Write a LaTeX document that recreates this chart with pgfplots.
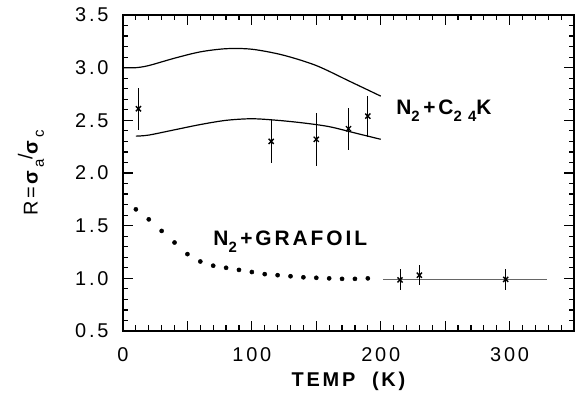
\documentclass[border=0pt]{standalone}
\usepackage{fontspec}
\setmainfont{Liberation Sans}[LetterSpace=14]
\usepackage{pgfplots}
\pgfplotsset{compat=1.18}
\newcommand{\sub}[1]{\raisebox{-0.6ex}{\fontsize{15}{15}\selectfont #1}}
\begin{document}
\begin{tikzpicture}
\useasboundingbox (-123bp,-62bp) rectangle (454bp,331bp);
\begin{axis}[
 scale only axis, width=451bp, height=316bp, at={(0,0)}, anchor=south west,
 xmin=0, xmax=350, ymin=0.5, ymax=3.5,
 xtick={0,50,...,350}, xticklabels={0,,100,,200,,300,},
 ytick={0.5,1,1.5,2,2.5,3,3.5},
 /pgf/number format/assume math mode=true,
 minor x tick num=4, minor y tick num=4,
 tick align=inside, major tick length=10bp, minor tick length=5.5bp,
 axis line style={line width=1.5bp},
 every tick/.style={line width=1.2bp, black},
 ticklabel style={font=\fontsize{20}{20}\selectfont},
 yticklabel style={/pgf/number format/fixed, /pgf/number format/fixed zerofill, /pgf/number format/precision=1, xshift=-11bp},
 xticklabel style={yshift=-13bp},
 xlabel={\bfseries TEMP\ \ (K)},
 xlabel style={at={([yshift=-50bp]axis description cs:0.5,0)}, anchor=center, font=\fontsize{20}{20}\selectfont},
 ylabel={R=\textbf{σ}\sub{a}\raisebox{0.5ex}{/}\textbf{σ}\sub{c}},
 ylabel style={at={([xshift=-92bp]axis description cs:0,0.5)}, anchor=center, font=\fontsize{20}{20}\selectfont},
 clip=false,
]
% upper model curve
\addplot[black, line width=1.2bp, smooth] coordinates {
(0,3.0)(10,3.0)(20,3.02)(40,3.09)(60,3.15)(80,3.18)(100,3.175)(124,3.12)(150,3.02)(176,2.87)(200,2.73)};
% lower model curve
\addplot[black, line width=1.2bp, smooth] coordinates {
(10,2.35)(20,2.36)(40,2.41)(60,2.46)(80,2.50)(100,2.515)(120,2.50)(140,2.475)(160,2.44)(180,2.38)(200,2.32)};
% C24K data with error bars
\addplot[black, only marks, mark=x, mark size=3.6bp, line width=1.4bp,
 error bars/.cd, y dir=both, y explicit, error mark=none,
 error bar style={line width=0.9bp}] coordinates {
(12,2.61) +- (0,0.2)
(115,2.30) +- (0,0.205)
(150,2.32) +- (0,0.25)
(175,2.42) +- (0,0.2)
(190,2.54) +- (0,0.195)};
% grafoil dots
\addplot[black, only marks, mark=*, mark size=2.1bp] coordinates {
(10,1.655)(20,1.56)(30,1.45)(40,1.34)(50,1.23)(60,1.16)(70,1.12)(80,1.10)(90,1.08)(100,1.06)(110,1.04)(120,1.03)(130,1.02)(140,1.01)(150,1.005)(160,1.0)(170,0.995)(180,0.995)(190,1.0)};
% horizontal line
\addplot[black!60, line width=0.7bp] coordinates {(202,0.995)(329,0.995)};
% grafoil data
\addplot[black, only marks, mark=x, mark size=3.6bp, line width=1.4bp,
 error bars/.cd, y dir=both, y explicit, error mark=none,
 error bar style={line width=0.9bp}] coordinates {
(215,0.985) +- (0,0.1)
(230,1.03) +- (0,0.095)
(297,0.99) +- (0,0.1)};
\node[anchor=west, font=\fontsize{21}{21}\selectfont\bfseries, inner sep=0pt] at (axis cs:212,2.59) {N\sub{2}\,+C\sub{2\ 4}K};
\node[anchor=west, font=\fontsize{21}{21}\selectfont\bfseries, inner sep=0pt] at (axis cs:70,1.35) {N\sub{2}\,+GRAFOIL};
\end{axis}
\end{tikzpicture}
\end{document}
